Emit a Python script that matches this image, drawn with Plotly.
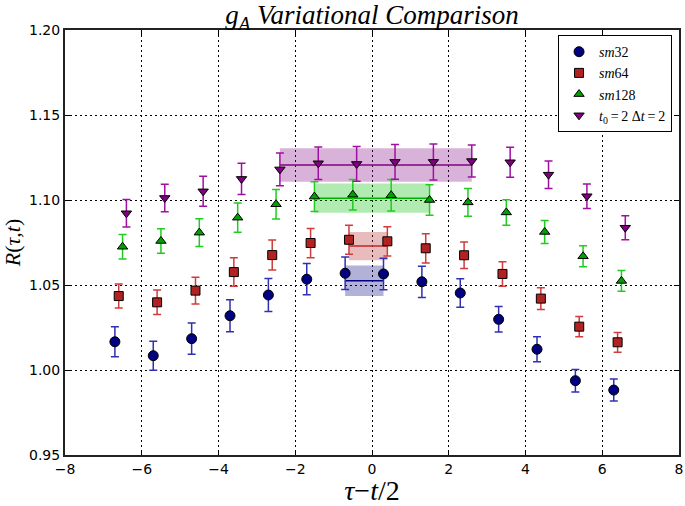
import plotly.graph_objects as go

# ---------------- data ----------------
series_names = ["<i>sm</i>32", "<i>sm</i>64", "<i>sm</i>128",
                "<i>t</i><sub>0</sub>\u2009=\u20092 \u0394<i>t</i>\u2009=\u20092"]

x_sm32 = [-6.7, -5.7, -4.7, -3.7, -2.7, -1.7, -0.7, 0.3, 1.3, 2.3, 3.3, 4.3, 5.3, 6.3]
x_sm64 = [-6.6, -5.6, -4.6, -3.6, -2.6, -1.6, -0.6, 0.4, 1.4, 2.4, 3.4, 4.4, 5.4, 6.4]
x_sm128 = [-6.5, -5.5, -4.5, -3.5, -2.5, -1.5, -0.5, 0.5, 1.5, 2.5, 3.5, 4.5, 5.5, 6.5]
x_t0 = [-6.4, -5.4, -4.4, -3.4, -2.4, -1.4, -0.4, 0.6, 1.6, 2.6, 3.6, 4.6, 5.6, 6.6]

y_sm32 = [1.0166, 1.0084, 1.0184, 1.0319, 1.0441, 1.0534, 1.0569, 1.0565, 1.0519, 1.0453, 1.0298, 1.0122, 0.9937, 0.9882]
e_sm32 = [0.0088, 0.0085, 0.0092, 0.0094, 0.0097, 0.0092, 0.0095, 0.0093, 0.0092, 0.0084, 0.0075, 0.0074, 0.0066, 0.0065]

y_sm64 = [1.0435, 1.0398, 1.0467, 1.0576, 1.0676, 1.0747, 1.0766, 1.0757, 1.0716, 1.0675, 1.0565, 1.0420, 1.0255, 1.0163]
e_sm64 = [0.0071, 0.0072, 0.0079, 0.0084, 0.0088, 0.0086, 0.0085, 0.0086, 0.0086, 0.0078, 0.0072, 0.0064, 0.0059, 0.0058]

y_sm128 = [1.0725, 1.0759, 1.0808, 1.0896, 1.0975, 1.1020, 1.1031, 1.1028, 1.1000, 1.0986, 1.0927, 1.0812, 1.0669, 1.0524]
e_sm128 = [0.0072, 0.0072, 0.0081, 0.0086, 0.0087, 0.0088, 0.0090, 0.0092, 0.0090, 0.0081, 0.0075, 0.0068, 0.0062, 0.0061]

y_t0 = [1.0922, 1.1012, 1.1051, 1.1124, 1.1180, 1.1216, 1.1212, 1.1224, 1.1224, 1.1229, 1.1222, 1.1149, 1.1022, 1.0837]
e_t0 = [0.0081, 0.0081, 0.0088, 0.0092, 0.0096, 0.0096, 0.0102, 0.0102, 0.0106, 0.0094, 0.0088, 0.0081, 0.0072, 0.0071]

# fit bands: (x start, x end, central value, half width)
fit_x_lo = [-0.7, -0.6, -1.5, -2.4]
fit_x_hi = [0.3, 0.4, 1.5, 2.6]
fit_val = [1.0525, 1.0729, 1.1011, 1.1206]
fit_err = [0.0089, 0.0083, 0.0086, 0.0098]

x_ticks = [-8, -6, -4, -2, 0, 2, 4, 6, 8]
y_ticks = [0.95, 1.00, 1.05, 1.10, 1.15, 1.20]

# ---------------- styles ----------------
xs = [x_sm32, x_sm64, x_sm128, x_t0]
ys = [y_sm32, y_sm64, y_sm128, y_t0]
es = [e_sm32, e_sm64, e_sm128, e_t0]
marker_fill = ["#000080", "#b22222", "#00a000", "#800080"]
err_color = ["#3030b0", "#d03c3c", "#20cc20", "#a010a0"]
band_fill = ["rgba(0,0,128,0.3)", "rgba(178,34,34,0.3)", "rgba(0,190,0,0.3)", "rgba(128,0,128,0.3)"]
line_color = ["#000080", "#c02828", "#00b000", "#800080"]
symbols = ["circle", "square", "triangle-up", "triangle-down"]

fig = go.Figure()

# bands first
for i in range(4):
    lo, hi, v, e = fit_x_lo[i], fit_x_hi[i], fit_val[i], fit_err[i]
    fig.add_trace(go.Scatter(
        x=[lo, hi, hi, lo, lo], y=[v - e, v - e, v + e, v + e, v - e],
        mode="lines", fill="toself", fillcolor=band_fill[i],
        line=dict(width=0), showlegend=False, hoverinfo="skip"))
    fig.add_trace(go.Scatter(
        x=[lo, hi], y=[v, v], mode="lines",
        line=dict(color=line_color[i], width=1.5),
        showlegend=False, hoverinfo="skip"))

for i in range(4):
    fig.add_trace(go.Scatter(
        x=xs[i], y=ys[i], mode="markers", name=series_names[i],
        marker=dict(symbol=symbols[i], size=9 if i != 0 else 10,
                    color=marker_fill[i], line=dict(color="black", width=1)),
        error_y=dict(type="data", array=es[i], visible=True,
                     color=err_color[i], thickness=1.5, width=4)))

axis_common = dict(
    showline=True, linecolor="#222222", linewidth=2, mirror="ticks",
    ticks="inside", ticklen=5, tickcolor="black", tickwidth=1,
    showgrid=True, gridcolor="black", gridwidth=1, griddash="2px,3px",
    zeroline=False, automargin=False, ticklabeloverflow="allow",
    tickfont=dict(family="DejaVu Sans", size=14, color="black"),
)

fig.update_layout(
    template="none",
    width=685, height=506,
    margin=dict(l=65, r=6, t=30, b=51),
    paper_bgcolor="white", plot_bgcolor="white",
    title=dict(text="<i>g</i><sub><i>A</i></sub> <i>Variational Comparison</i>",
               x=(65 + 679) / 2 / 685, xanchor="center", y=0.971, yanchor="middle",
               font=dict(family="Liberation Serif", size=27, color="black")),
    xaxis=dict(range=[-8, 8], tickvals=x_ticks,
               ticktext=[("\u2212" + str(-t)) if t < 0 else str(t) for t in x_ticks],
               title=dict(text="<i>\u03c4</i>\u2212<i>t</i>/2",
                          font=dict(family="Liberation Serif", size=28, color="black"),
                          standoff=6),
               **axis_common),
    yaxis=dict(range=[0.95, 1.20], tickvals=y_ticks,
               ticktext=[f"{t:.2f}" for t in y_ticks],
               title=dict(text="<i>R</i>(<i>\u03c4</i>,<i>t</i>)",
                          font=dict(family="Liberation Serif", size=22, color="black"),
                          standoff=8),
               **axis_common),
    legend=dict(x=0.803, y=0.988, xanchor="left", yanchor="top",
                bordercolor="black", borderwidth=1, bgcolor="white",
                font=dict(family="Liberation Serif", size=14, color="black"),
                tracegroupgap=0, itemwidth=30),
    showlegend=True,
)

fig.write_html("out.html", post_script="document.body.style.margin='0';",
               config={"displayModeBar": False})
